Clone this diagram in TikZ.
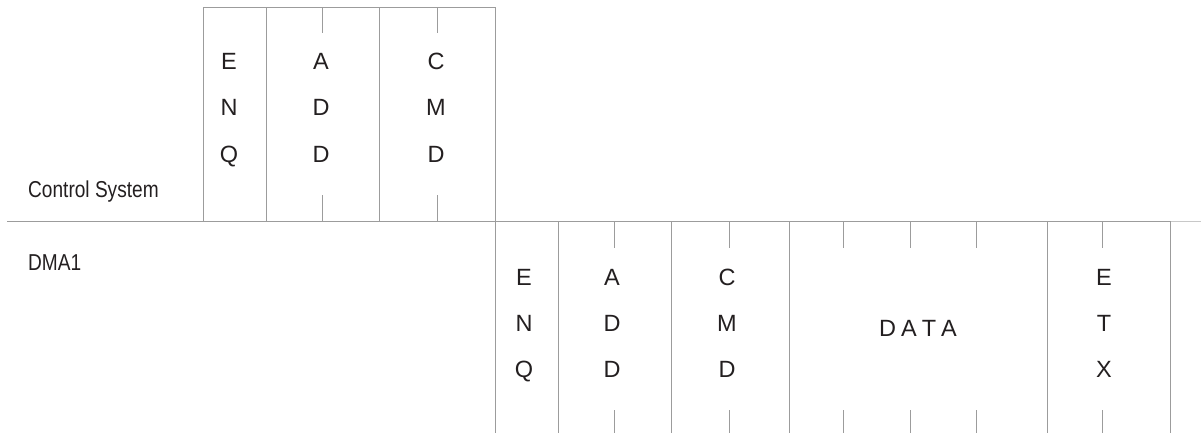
\documentclass[tikz,border=0pt]{standalone}
\usepackage{fontspec}
\setmainfont{Liberation Sans}
\newfontfamily\narrowfont[FakeStretch=0.83]{Liberation Sans}
\usetikzlibrary{positioning}

\definecolor{frameline}{HTML}{9C9C9C}
\definecolor{fadeline}{HTML}{C8C8C8}
\definecolor{inktext}{HTML}{231F20}

\tikzset{
  frame/.style={draw=frameline, line width=1pt},
  letter/.style={inner sep=0pt, anchor=base, text=inktext, font=\fontsize{23.5}{23.5}\selectfont},
  lane/.style={inner sep=0pt, anchor=base west, text=inktext, font=\narrowfont\fontsize{23}{23}\selectfont}
}

\begin{document}
\begin{tikzpicture}[x=1pt,y=-1pt]
		\useasboundingbox (0,0) rectangle (1201,433);
		
		% Lane labels
		\node[lane] (ctrl) at (28,197) {Control System};
		\node[lane] (dma) at (28,270) {DMA1};
		
		% Lane border
		\draw[frame] (7,221) -- (1170,221);
		\draw[frame, draw=fadeline] (1170,221) -- (1201,221);
		
		% Control system frame
		\draw[frame] (203,221) -- (203,8) -- (495,8) -- (495,433);
		\foreach \x in {266,379}
			\draw[frame] (\x,8) -- (\x,221);
		\foreach \x in {322,437} {
			\draw[frame] (\x,8) -- (\x,33);
			\draw[frame] (\x,195) -- (\x,221);
		}
		
		% DMA1 frame
		\foreach \x in {558,671,789,1047,1170}
			\draw[frame] (\x,221) -- (\x,433);
		\foreach \x in {614,729,843,910,976,1102} {
			\draw[frame] (\x,221) -- (\x,248);
			\draw[frame] (\x,410) -- (\x,433);
		}
		
		% Control system fields
		\foreach \l [count=\i] in {E,N,Q}
			\node[letter] (cs-enq-\i) at (229,24+46*\i) {\l};
		\foreach \l [count=\i] in {A,D,D}
			\node[letter] (cs-add-\i) at (321,24+46*\i) {\l};
		\foreach \l [count=\i] in {C,M,D}
			\node[letter] (cs-cmd-\i) at (436,24+46*\i) {\l};
		
		% DMA1 fields
		\foreach \l [count=\i] in {E,N,Q}
			\node[letter] (dm-enq-\i) at (524,239+46*\i) {\l};
		\foreach \l [count=\i] in {A,D,D}
			\node[letter] (dm-add-\i) at (612,239+46*\i) {\l};
		\foreach \l [count=\i] in {C,M,D}
			\node[letter] (dm-cmd-\i) at (727,239+46*\i) {\l};
		\node[letter] (dm-data) at (918,336) {D\kern5pt A\kern5pt T\kern5pt A};
		\foreach \l [count=\i] in {E,T,X}
			\node[letter] (dm-etx-\i) at (1104,239+46*\i) {\l};
		
	\end{tikzpicture}
\end{document}
